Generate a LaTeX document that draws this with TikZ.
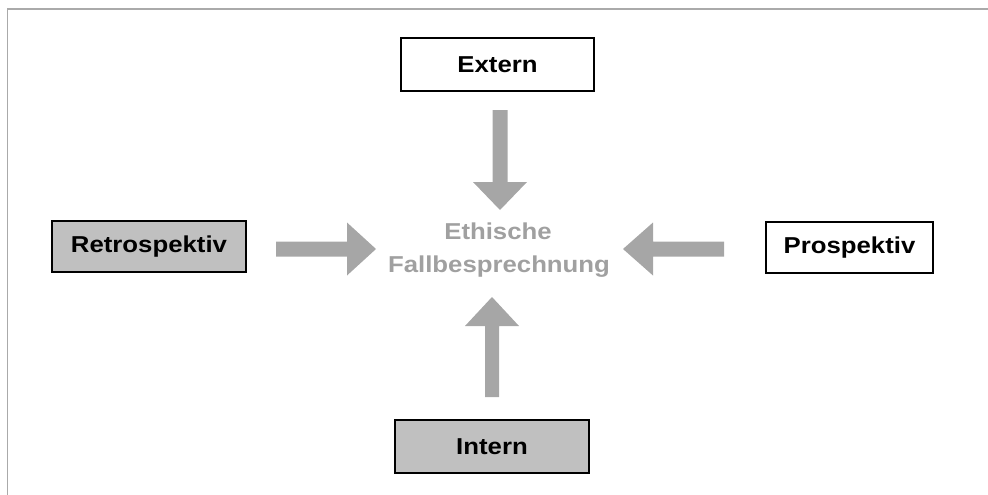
\documentclass[tikz,border=0pt]{standalone}
\usepackage{fontspec}
\setmainfont{Liberation Sans}[FakeStretch=1.12]
\definecolor{arrgray}{RGB}{166,166,166}
\definecolor{txtgray}{RGB}{160,160,160}
\definecolor{boxgray}{RGB}{192,192,192}
\definecolor{framegray}{RGB}{170,170,170}
\begin{document}
\begin{tikzpicture}[x=1pt,y=-1pt,
  lbl/.style={font=\fontsize{23}{27}\selectfont\bfseries},
  whitebox/.style={lbl,draw=black,line width=1.2pt,fill=white,inner sep=0pt},
  graybox/.style={whitebox,fill=boxgray},
  arr/.style={fill=arrgray},
  centertext/.style={lbl,text=txtgray,anchor=base,inner sep=0pt}]
\useasboundingbox (0,0) rectangle (988,495);
% frame
\draw[framegray,line width=1.5pt] (7.5,495) -- (7.5,9) -- (988,9);
% boxes
\node[whitebox,minimum width=193pt,minimum height=53pt] (ext) at (497.5,64.5) {Extern};
\node[graybox,minimum width=194pt,minimum height=51pt] (retro) at (149,246.5) {Retrospektiv};
\node[whitebox,minimum width=167pt,minimum height=51pt] (pros) at (849.5,247.5) {Prospektiv};
\node[graybox,minimum width=194pt,minimum height=53pt] (int) at (492,446.5) {Intern};
% centre text
\node[centertext] (c1) at (498,239.5) {Ethische};
\node[centertext] (c2) at (499,272.5) {Fallbesprechnung};
% arrow end points
\coordinate (dA) at (500,110); \coordinate (dB) at (500,210);
\coordinate (uA) at (492,397); \coordinate (uB) at (492,297);
\coordinate (rA) at (276,249); \coordinate (rB) at (376,249);
\coordinate (lA) at (724,249); \coordinate (lB) at (623,249);
% arrows
\fill[arr] (dA) ++(-7.5,0) -- ++(15,0) -- ++(0,72) -- ++(19.5,0) -- (dB) -- ++(-27,-28) -- ++(19.5,0) -- cycle;
\fill[arr] (uA) ++(-7,0) -- ++(14,0) -- ++(0,-71) -- ++(20,0) -- (uB) -- ++(-27,29) -- ++(20,0) -- cycle;
\fill[arr] (rA) ++(0,-7.5) -- ++(71,0) -- ++(0,-19) -- (rB) -- ++(-29,26.5) -- ++(0,-19) -- ++(-71,0) -- cycle;
\fill[arr] (lA) ++(0,-7.5) -- ++(-71,0) -- ++(0,-19) -- (lB) -- ++(30,26.5) -- ++(0,-19) -- ++(71,0) -- cycle;
\end{tikzpicture}
\end{document}
